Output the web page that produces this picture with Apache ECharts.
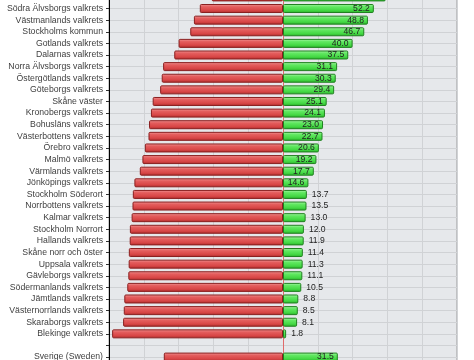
<!DOCTYPE html>
<html>
<head>
<meta charset="utf-8">
<script src="https://cdn.jsdelivr.net/npm/echarts@6/dist/echarts.min.js"></script>
<style>
html,body{margin:0;padding:0;background:#ffffff;overflow:hidden;}
#c{position:absolute;left:0;top:-20px;width:474px;height:400px;}
</style>
</head>
<body>
<div id="c"></div>
<script>
var categories = ['Skåne södra valkrets','Södra Älvsborgs valkrets','Västmanlands valkrets','Stockholms kommun','Gotlands valkrets','Dalarnas valkrets','Norra Älvsborgs valkrets','Östergötlands valkrets','Göteborgs valkrets','Skåne väster','Kronobergs valkrets','Bohusläns valkrets','Västerbottens valkrets','Örebro valkrets','Malmö valkrets','Värmlands valkrets','Jönköpings valkrets','Stockholm Söderort','Norrbottens valkrets','Kalmar valkrets','Stockholm Norrort','Hallands valkrets','Skåne norr och öster','Uppsala valkrets','Gävleborgs valkrets','Södermanlands valkrets','Jämtlands valkrets','Västernorrlands valkrets','Skaraborgs valkrets','Blekinge valkrets','','Sverige (Sweden)'];
var greenValues = [59.0,52.2,48.8,46.7,40.0,37.5,31.1,30.3,29.4,25.1,24.1,23.0,22.7,20.6,19.2,17.7,14.6,13.7,13.5,13.0,12.0,11.9,11.4,11.3,11.1,10.5,8.8,8.5,8.1,1.8,null,31.5];
var redValues = [41.0,47.8,51.2,53.3,60.0,62.5,68.9,69.7,70.6,74.9,75.9,77.0,77.3,79.4,80.8,82.3,85.4,86.3,86.5,87.0,88.0,88.1,88.6,88.7,88.9,89.5,91.2,91.5,91.9,98.2,null,68.5];
var xTicks = [-100,-80,-60,-40,-20,0,20,40,60,80,100];

var FONT = '"Liberation Sans",Arial,Helvetica,sans-serif';
var chart = echarts.init(document.getElementById('c'), null, {renderer:'canvas'});

var redGrad = new echarts.graphic.LinearGradient(0,0,0,1,[
  {offset:0,color:'#f09a9a'},{offset:0.3,color:'#e45e5e'},{offset:0.7,color:'#d84646'},{offset:1,color:'#a82c2c'}]);
var greenGrad = new echarts.graphic.LinearGradient(0,0,0,1,[
  {offset:0,color:'#b0f7b0'},{offset:0.3,color:'#62e862'},{offset:0.7,color:'#44d844'},{offset:1,color:'#28ad28'}]);

var greenData = greenValues.map(function(v){
  if (v === null) return '-';
  return {value:v, label:{position: v > 14 ? 'insideRight' : 'right', distance: v > 14 ? 4 : 5}};
});
var redData = redValues.map(function(v){ return v === null ? '-' : -v; });

chart.setOption({
  animation:false,
  backgroundColor:'#ffffff',
  grid:{left:109, right:17, top:11.1, bottom:17.1, containLabel:false, outerBoundsMode:'none',
    show:true, backgroundColor:'#e6e8eb', borderColor:'#9a9a9a', borderWidth:1},
  xAxis:{type:'value', min:xTicks[0], max:xTicks[xTicks.length-1], interval:20,
    axisLabel:{show:false}, axisTick:{show:false}, axisLine:{show:false},
    splitLine:{show:true, lineStyle:{color:'#d0d2d5', width:1}}},
  yAxis:{type:'category', inverse:true, data:categories,
    axisLine:{show:true, onZero:false, lineStyle:{color:'#000000', width:1}},
    axisTick:{show:true, alignWithLabel:true, length:3, lineStyle:{color:'#333'}},
    axisLabel:{color:'#404040', fontSize:8.7, fontFamily:FONT, margin:6, interval:0},
    splitLine:{show:true, alignWithLabel:true, lineStyle:{color:'#d0d2d5', width:1}}},
  series:[
    {type:'bar', name:'red', data:redData, barWidth:9, barGap:'-100%', z:2,
     itemStyle:{color:redGrad, borderColor:'#8a1f1f', borderWidth:1, borderRadius:1},
     markLine:{silent:true, symbol:'none', z:1, label:{show:false}, lineStyle:{color:'#e06a6a', width:1, type:'solid'}, data:[{xAxis:0}]}},
    {type:'bar', name:'green', data:greenData, barWidth:9, barGap:'-100%', z:3,
     itemStyle:{color:greenGrad, borderColor:'#1f801f', borderWidth:1, borderRadius:1},
     label:{show:true, color:'#222222', fontSize:8.6, fontFamily:FONT,
       formatter:function(p){return p.value.toFixed(1);}}}
  ]
});
</script>
</body>
</html>
